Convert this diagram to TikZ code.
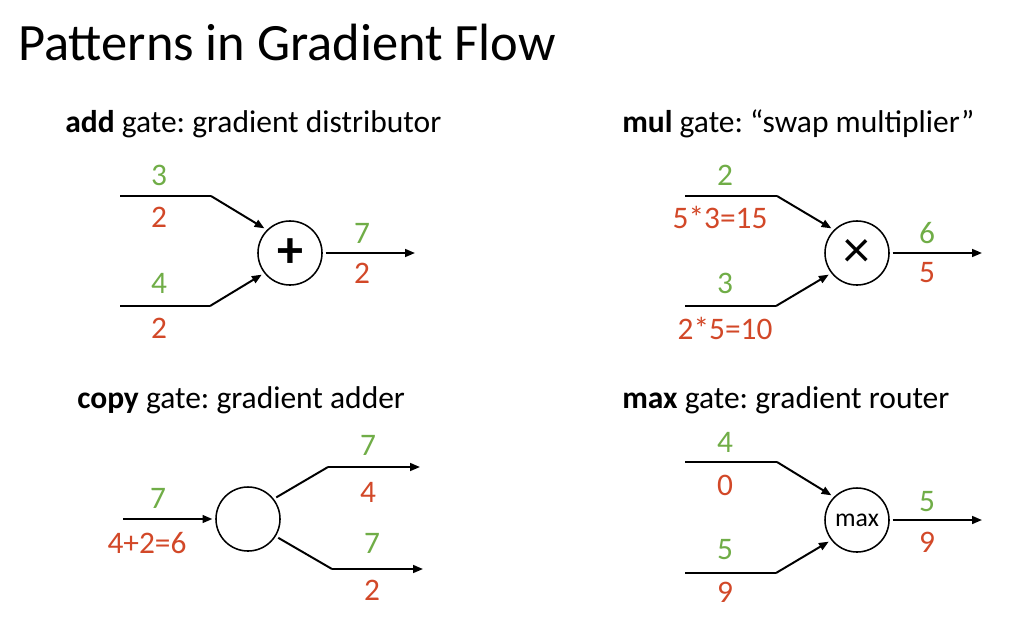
\documentclass[tikz,border=0pt]{standalone}
\usepackage{fontspec}
\setmainfont{Carlito}
\usetikzlibrary{arrows.meta}
\definecolor{gradgreen}{RGB}{112,173,71}
\definecolor{gradred}{RGB}{210,72,40}
\frenchspacing

\begin{document}
\begin{tikzpicture}[x=0.025cm,y=-0.025cm,
  wire/.style={line width=1.4pt},
  arr/.style={wire,-{Triangle[length=7pt,width=5.5pt]}},
  gatenode/.style={circle,draw,line width=1.1pt,minimum size=1.6cm,inner sep=0pt},
  fwd/.style={text=gradgreen,font=\fontsize{22.3}{26}\selectfont,inner sep=0pt},
  bwd/.style={text=gradred,font=\fontsize{22.3}{26}\selectfont,inner sep=0pt},
  head/.style={anchor=base west,inner sep=0pt,font=\fontsize{22.4}{26}\selectfont},
]
\useasboundingbox (0,0) rectangle (1029,619);

\node[anchor=base west,inner sep=0pt,font=\fontsize{37.3}{44}\selectfont] (title) at (18,60) {Patterns in Gradient Flow};

% ---------- add gate ----------
\node[head] (hadd) at (65,132) {\textbf{add} gate: gradient distributor};
\node[gatenode,font=\fontsize{37}{37}\selectfont\bfseries] (plus) at (290,253) {+};
\coordinate (ain1s) at (120,196);
\coordinate (ain1e) at (211,196);
\coordinate (ain2s) at (120,306);
\coordinate (ain2e) at (210,306);
\coordinate (aout) at (415,253);
\draw[wire] (ain1s) -- (ain1e);
\draw[wire] (ain2s) -- (ain2e);
\draw[arr,shorten >=2pt] (ain1e) -- (plus.135);
\draw[arr,shorten >=2pt] (ain2e) -- (plus.218);
\draw[arr,shorten <=2pt] (plus.east) -- (aout);
\node[fwd] (af1) at (159,175) {3};
\node[bwd] (ab1) at (159,217) {2};
\node[fwd] (af2) at (159,283) {4};
\node[bwd] (ab2) at (159,328) {2};
\node[fwd] (afo) at (362,233) {7};
\node[bwd] (abo) at (362,273) {2};

% ---------- mul gate ----------
\node[head] (hmul) at (622,132) {\textbf{mul} gate: “swap multiplier”};
\node[gatenode,font=\fontsize{38}{38}\selectfont] (times) at (857,253) {×};
\coordinate (min1s) at (685,196);
\coordinate (min1e) at (777,196);
\coordinate (min2s) at (685,306);
\coordinate (min2e) at (776,306);
\coordinate (mout) at (982,253);
\draw[wire] (min1s) -- (min1e);
\draw[wire] (min2s) -- (min2e);
\draw[arr,shorten >=2pt] (min1e) -- (times.135);
\draw[arr,shorten >=2pt] (min2e) -- (times.218);
\draw[arr,shorten <=2pt] (times.east) -- (mout);
\node[fwd] (mf1) at (725,175) {2};
\node[bwd] (mb1) at (720,217) {5*3=15};
\node[fwd] (mf2) at (725,283) {3};
\node[bwd] (mb2) at (725,328) {2*5=10};
\node[fwd] (mfo) at (927,233) {6};
\node[bwd] (mbo) at (927,273) {5};

% ---------- copy gate ----------
\node[head] (hcopy) at (77,408) {\textbf{copy} gate: gradient adder};
\node[gatenode] (copy) at (248,519) {};
\coordinate (cin) at (123,519);
\coordinate (cu1) at (328,467);
\coordinate (cu2) at (420,467);
\coordinate (cl1) at (332,569);
\coordinate (cl2) at (423,569);
\draw[arr,shorten >=2pt] (cin) -- (copy.west);
\draw[wire,shorten <=2pt] (copy.38) -- (cu1);
\draw[arr] (cu1) -- (cu2);
\draw[wire,shorten <=2pt] (copy.-32) -- (cl1);
\draw[arr] (cl1) -- (cl2);
\node[fwd] (cfi) at (158,498) {7};
\node[bwd] (cbi) at (147,543) {4+2=6};
\node[fwd] (cfu) at (368,445) {7};
\node[bwd] (cbu) at (368,492) {4};
\node[fwd] (cfl) at (372,543) {7};
\node[bwd] (cbl) at (372,590) {2};

% ---------- max gate ----------
\node[head] (hmax) at (622,408) {\textbf{max} gate: gradient router};
\node[gatenode,font=\fontsize{18.3}{20}\selectfont] (max) at (857,520) {max};
\coordinate (xin1s) at (685,462);
\coordinate (xin1e) at (777,462);
\coordinate (xin2s) at (685,573);
\coordinate (xin2e) at (776,573);
\coordinate (xout) at (982,520);
\draw[wire] (xin1s) -- (xin1e);
\draw[wire] (xin2s) -- (xin2e);
\draw[arr,shorten >=2pt] (xin1e) -- (max.135);
\draw[arr,shorten >=2pt] (xin2e) -- (max.218);
\draw[arr,shorten <=2pt] (max.east) -- (xout);
\node[fwd] (xf1) at (725,442) {4};
\node[bwd] (xb1) at (725,485) {0};
\node[fwd] (xf2) at (725,550) {5};
\node[bwd] (xb2) at (725,592) {9};
\node[fwd] (xfo) at (927,502) {5};
\node[bwd] (xbo) at (927,542) {9};
\end{tikzpicture}
\end{document}
